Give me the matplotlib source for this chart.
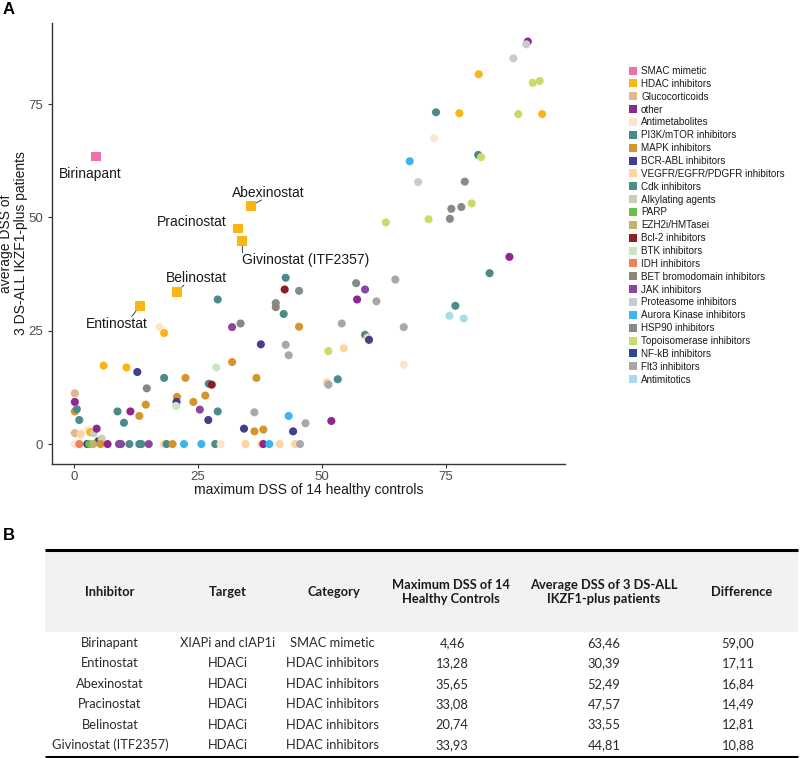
import matplotlib
matplotlib.use('Agg')
import matplotlib.pyplot as plt
from matplotlib.lines import Line2D
from matplotlib.patches import Rectangle

plt.rcParams['font.family'] = ['Liberation Sans', 'DejaVu Sans']

# ---------------- data ----------------
class_names = ['SMAC mimetic', 'HDAC inhibitors', 'Glucocorticoids', 'other', 'Antimetabolites',
               'PI3K/mTOR inhibitors', 'MAPK inhibitors', 'BCR-ABL inhibitors',
               'VEGFR/EGFR/PDGFR inhibitors', 'Cdk inhibitors', 'Alkylating agents', 'PARP',
               'EZH2i/HMTasei', 'Bcl-2 inhibitors', 'BTK inhibitors', 'IDH inhibitors',
               'BET bromodomain inhibitors', 'JAK inhibitors', 'Proteasome inhibitors',
               'Aurora Kinase inhibitors', 'HSP90 inhibitors', 'Topoisomerase inhibitors',
               'NF-kB inhibitors', 'Flt3 inhibitors', 'Antimitotics']
class_colors = ['#F06EAA', '#FDB515', '#DFB98B', '#8E278F', '#FDE5CC',
                '#4C8B8B', '#D4952B', '#433C8F',
                '#FDD4A3', '#4A8E88', '#CFCAB5', '#6CBF45',
                '#BDB56A', '#8C2125', '#CBE6C2', '#F37F59',
                '#8C857E', '#8A47A2', '#C5CDD0',
                '#3DB6EC', '#868A8A', '#C8DC68',
                '#2F459C', '#A8A8A8', '#A9DCE9']

healthy_max = [91.5, 91.2, 88.6, 81.6, 92.5, 93.9, 73.0, 77.7, 89.6, 94.4,
               72.6, 67.7, 81.5, 82.1, 69.4, 78.8, 80.2, 76.1, 78.1, 75.8,
               71.5, 62.9, 87.8, 83.8, 76.9, 75.7, 78.6, 42.7, 42.5, 45.4,
               56.9, 58.7, 57.1, 64.8, 61.0, 42.3, 45.4, 54.0, 66.5, 58.7,
               59.2, 59.5, 42.7, 43.3, 51.3, 54.4, 66.5, 53.2, 51.0, 51.3,
               43.3, 46.7, 44.2, 51.9, 40.7, 40.7, 37.7, 29.0, 33.6, 31.9,
               17.3, 18.2, 6.0, 10.6, 12.8, 18.2, 22.5, 28.7, 31.9, 36.8,
               14.7, 27.2, 27.8, 14.5, 20.8, 20.7, 20.6, 24.1, 26.5, 25.4,
               27.1, 29.0, 36.4, 34.3, 36.4, 38.2, 8.8, 11.4, 13.2, 10.1,
               0.2, 0.2, 0.2, 0.6, 1.1, 0.2, 1.4, 2.9, 3.3, 4.0,
               4.6, 5.0, 5.6, 0.2, 1.1, 2.7, 3.1, 3.9, 5.4, 6.8,
               9.1, 9.5, 11.2, 13.2, 13.6, 15.1, 18.2, 18.7, 19.9, 22.2,
               25.7, 28.5, 29.6, 34.6, 37.8, 38.2, 39.4, 41.5, 44.6, 45.6]
patients_avg = [88.8, 88.2, 85.1, 81.6, 79.7, 80.1, 73.2, 73.0, 72.8, 72.8,
                67.5, 62.4, 63.8, 63.3, 57.8, 57.9, 53.1, 51.9, 52.3, 49.7,
                49.6, 48.9, 41.3, 37.7, 30.5, 28.3, 27.7, 36.7, 34.1, 33.8,
                35.5, 34.1, 31.9, 36.3, 31.5, 28.7, 25.9, 26.6, 25.8, 24.1,
                23.5, 23.0, 21.9, 19.6, 20.5, 21.1, 17.5, 14.3, 13.6, 13.1,
                6.2, 4.6, 2.8, 5.1, 31.1, 30.2, 22.0, 31.9, 26.6, 25.8,
                25.8, 24.5, 17.3, 16.9, 15.9, 14.6, 14.6, 16.9, 18.1, 14.6,
                12.3, 13.3, 13.1, 8.7, 10.4, 9.3, 8.4, 9.3, 10.7, 7.6,
                5.3, 7.2, 7.0, 3.4, 2.8, 3.2, 7.2, 7.2, 6.2, 4.7,
                11.2, 9.3, 7.2, 7.7, 5.3, 2.4, 2.2, 3.1, 2.6, 2.4,
                3.4, 0.7, 1.2, 0.0, 0.0, 0.0, 0.0, 0.0, 0.0, 0.0,
                0.0, 0.0, 0.0, 0.0, 0.0, 0.0, 0.0, 0.0, 0.0, 0.0,
                0.0, 0.0, 0.0, 0.0, 0.0, 0.0, 0.0, 0.0, 0.0, 0.0]
drug_class = ['other', 'Proteasome inhibitors', 'Proteasome inhibitors', 'HDAC inhibitors',
              'Topoisomerase inhibitors', 'Topoisomerase inhibitors', 'PI3K/mTOR inhibitors',
              'HDAC inhibitors', 'Topoisomerase inhibitors', 'HDAC inhibitors',
              'Antimetabolites', 'Aurora Kinase inhibitors', 'PI3K/mTOR inhibitors',
              'Topoisomerase inhibitors', 'Proteasome inhibitors', 'HSP90 inhibitors',
              'Topoisomerase inhibitors', 'HSP90 inhibitors', 'HSP90 inhibitors', 'HSP90 inhibitors',
              'Topoisomerase inhibitors', 'Topoisomerase inhibitors', 'other', 'PI3K/mTOR inhibitors',
              'Cdk inhibitors', 'Antimitotics', 'Antimitotics', 'PI3K/mTOR inhibitors',
              'Bcl-2 inhibitors', 'HSP90 inhibitors',
              'HSP90 inhibitors', 'JAK inhibitors', 'other', 'Flt3 inhibitors', 'Flt3 inhibitors',
              'Cdk inhibitors', 'MAPK inhibitors', 'Flt3 inhibitors', 'Flt3 inhibitors',
              'PI3K/mTOR inhibitors',
              'VEGFR/EGFR/PDGFR inhibitors', 'BCR-ABL inhibitors', 'Flt3 inhibitors', 'Flt3 inhibitors',
              'Topoisomerase inhibitors', 'VEGFR/EGFR/PDGFR inhibitors', 'Antimetabolites',
              'PI3K/mTOR inhibitors', 'VEGFR/EGFR/PDGFR inhibitors', 'Flt3 inhibitors',
              'Aurora Kinase inhibitors', 'Flt3 inhibitors', 'BCR-ABL inhibitors', 'other',
              'HSP90 inhibitors', 'BET bromodomain inhibitors', 'BCR-ABL inhibitors',
              'PI3K/mTOR inhibitors', 'BET bromodomain inhibitors', 'JAK inhibitors',
              'Antimetabolites', 'HDAC inhibitors', 'HDAC inhibitors', 'HDAC inhibitors',
              'BCR-ABL inhibitors', 'PI3K/mTOR inhibitors', 'MAPK inhibitors', 'BTK inhibitors',
              'MAPK inhibitors', 'MAPK inhibitors',
              'BET bromodomain inhibitors', 'PI3K/mTOR inhibitors', 'Bcl-2 inhibitors',
              'MAPK inhibitors', 'MAPK inhibitors', 'BCR-ABL inhibitors', 'BTK inhibitors',
              'MAPK inhibitors', 'MAPK inhibitors', 'JAK inhibitors',
              'BCR-ABL inhibitors', 'PI3K/mTOR inhibitors', 'Flt3 inhibitors', 'BCR-ABL inhibitors',
              'MAPK inhibitors', 'MAPK inhibitors', 'PI3K/mTOR inhibitors', 'other',
              'MAPK inhibitors', 'PI3K/mTOR inhibitors',
              'Glucocorticoids', 'other', 'MAPK inhibitors', 'PI3K/mTOR inhibitors',
              'PI3K/mTOR inhibitors', 'Glucocorticoids', 'VEGFR/EGFR/PDGFR inhibitors',
              'Antimetabolites', 'HDAC inhibitors', 'Alkylating agents',
              'other', 'BCR-ABL inhibitors', 'Alkylating agents', 'Antimetabolites',
              'IDH inhibitors', 'BCR-ABL inhibitors', 'PARP', 'EZH2i/HMTasei', 'MAPK inhibitors',
              'other',
              'JAK inhibitors', 'JAK inhibitors', 'PI3K/mTOR inhibitors', 'PI3K/mTOR inhibitors',
              'Cdk inhibitors', 'JAK inhibitors', 'VEGFR/EGFR/PDGFR inhibitors',
              'PI3K/mTOR inhibitors', 'MAPK inhibitors', 'Aurora Kinase inhibitors',
              'Aurora Kinase inhibitors', 'PI3K/mTOR inhibitors', 'Antimetabolites',
              'VEGFR/EGFR/PDGFR inhibitors', 'VEGFR/EGFR/PDGFR inhibitors', 'other',
              'Aurora Kinase inhibitors', 'VEGFR/EGFR/PDGFR inhibitors',
              'VEGFR/EGFR/PDGFR inhibitors', 'Flt3 inhibitors']

# highlighted inhibitors (table B)
inhibitors = ['Birinapant', 'Entinostat', 'Abexinostat', 'Pracinostat', 'Belinostat',
              'Givinostat (ITF2357)']
targets = ['XIAPi and cIAP1i', 'HDACi', 'HDACi', 'HDACi', 'HDACi', 'HDACi']
categories = ['SMAC mimetic', 'HDAC inhibitors', 'HDAC inhibitors', 'HDAC inhibitors',
              'HDAC inhibitors', 'HDAC inhibitors']
max_dss_healthy = [4.46, 13.28, 35.65, 33.08, 20.74, 33.93]
avg_dss_patients = [63.46, 30.39, 52.49, 47.57, 33.55, 44.81]
difference = [59.00, 17.11, 16.84, 14.49, 12.81, 10.88]

table_headers = ['Inhibitor', 'Target', 'Category', 'Maximum DSS of 14\nHealthy Controls',
                 'Average DSS of 3 DS-ALL\nIKZF1-plus patients', 'Difference']

# ---------------- figure ----------------
W, H = 800, 758
fig = plt.figure(figsize=(W / 100, H / 100), dpi=100)

cmap = dict(zip(class_names, class_colors))

ax = fig.add_axes([52 / W, 1 - 464 / H, 513 / W, 441 / H])
ax.set_xlim(-4.4, 99)
ax.set_ylim(-4.4, 92.9)

ax.scatter(healthy_max, patients_avg, c=[cmap[c] for c in drug_class], s=34,
           marker='o', linewidths=0, zorder=2)
ax.scatter(max_dss_healthy, avg_dss_patients, c=[cmap[c] for c in categories], s=50,
           marker='s', linewidths=0, zorder=3)

# (dx, dy in points, leader line, relpos of line start on text box)
label_offsets = {'Birinapant': (-4, -13, False, None),
                 'Entinostat': (-16.5, -12.5, True, (0.74, 1.0)),
                 'Abexinostat': (13, 9.5, True, (0.4, 0.0)),
                 'Pracinostat': (-33, 4.8, False, None),
                 'Belinostat': (14, 10, True, (0.3, 0.0)),
                 'Givinostat (ITF2357)': (46, -13.5, True, (0.0, 1.0))}
for name, xv, yv in zip(inhibitors, max_dss_healthy, avg_dss_patients):
    dx, dy, line, rp = label_offsets[name]
    kw = {}
    if line:
        kw = dict(arrowprops=dict(arrowstyle='-', lw=0.6, color='#222222',
                                  shrinkA=0, shrinkB=0, relpos=rp),
                  bbox=dict(boxstyle='square,pad=0', fc='none', ec='none'))
    ax.annotate(name, (xv, yv), xytext=(dx, dy), textcoords='offset points',
                ha='center', va='center', fontsize=10, color='#1a1a1a', zorder=2.5, **kw)

for s in ['top', 'right']:
    ax.spines[s].set_visible(False)
for s in ['left', 'bottom']:
    ax.spines[s].set_color('#333333')
    ax.spines[s].set_linewidth(1.0)
ax.set_xticks([0, 25, 50, 75])
ax.set_yticks([0, 25, 50, 75])
ax.tick_params(colors='#333333', labelcolor='#4D4D4D', labelsize=9.5, length=3, width=0.8)
ax.tick_params(axis='x', pad=2)
ax.set_xlabel('maximum DSS of 14 healthy controls', fontsize=10, color='#1a1a1a', labelpad=0)
ax.set_ylabel('average DSS of\n3 DS-ALL IKZF1-plus patients', fontsize=10, color='#1a1a1a',
              linespacing=1.05)
ax.yaxis.set_label_coords(-0.047, 0.5)

handles = [Line2D([], [], marker='s', linestyle='none', markersize=5.2,
                  markerfacecolor=col, markeredgewidth=0) for col in class_colors]
fig.legend(handles, class_names, loc='upper left', bbox_to_anchor=(629 / W, 1 - 66 / H),
           frameon=False, fontsize=7.1, handlelength=0.8, handletextpad=0.42,
           labelspacing=0.29, borderpad=0, borderaxespad=0, labelcolor='#1a1a1a')

fig.text(3 / W, 1 - 9 / H, 'A', fontsize=12, fontweight='bold', va='center', ha='left')
fig.text(3 / W, 1 - 536 / H, 'B', fontsize=12, fontweight='bold', va='center', ha='left')

# ---------------- table ----------------
tab = fig.add_axes([0, 0, 1, 1], zorder=-1)
tab.set_xlim(0, W)
tab.set_ylim(H, 0)
tab.axis('off')
tab.add_patch(Rectangle((45, 551), 753, 81, facecolor='#F2F2F2', edgecolor='none'))
tab.plot([45, 798], [550, 550], color='black', lw=2.2, solid_capstyle='butt')
tab.plot([45, 798], [756.5, 756.5], color='black', lw=2.2, solid_capstyle='butt')

tfont = ['Lato', 'DejaVu Sans']
head_x = [110, 228, 334, 451, 604, 742]
row_x = [110, 228, 332, 452, 604, 738]
for hx, h in zip(head_x, table_headers):
    tab.text(hx, 592, h, ha='center', va='center', fontsize=9.3, fontweight='bold',
             family=tfont, color='#1a1a1a', linespacing=1.2)

fmt = lambda v: f'{v:.2f}'.replace('.', ',')
for i in range(len(inhibitors)):
    y = 643 + i * 20.4
    vals = [inhibitors[i], targets[i], categories[i], fmt(max_dss_healthy[i]),
            fmt(avg_dss_patients[i]), fmt(difference[i])]
    for rx, v in zip(row_x, vals):
        tab.text(rx, y, v, ha='center', va='center', fontsize=9.3, family=tfont,
                 color='#2a2a2a')

fig.savefig('out.png', dpi=100)
